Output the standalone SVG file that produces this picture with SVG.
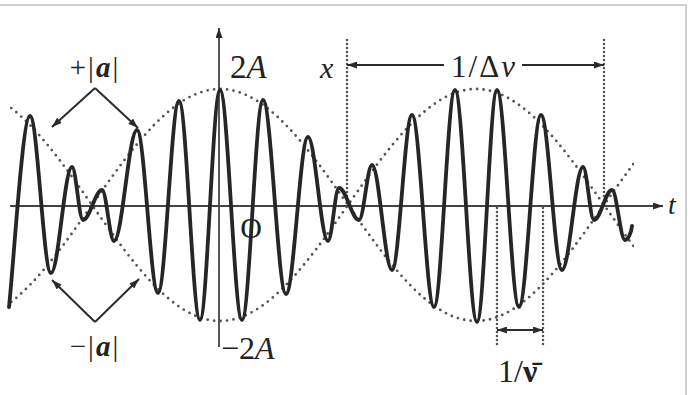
<svg xmlns="http://www.w3.org/2000/svg" width="688" height="395" viewBox="0 0 688 395">
<style>
.wave{fill:none;stroke:#262626;stroke-width:3.8;stroke-linejoin:round;stroke-linecap:round}
.env{fill:none;stroke:#555;stroke-width:2.8;stroke-linecap:round;stroke-dasharray:0 6.5}
.vdot{fill:none;stroke:#555;stroke-width:2.6;stroke-linecap:round;stroke-dasharray:0 4}
.ax{fill:none;stroke:#444;stroke-width:1.8}
.ln{fill:none;stroke:#2b2b2b;stroke-width:2}
.lbl{font-family:"Liberation Serif","Times New Roman",serif;fill:#222}
.it{font-style:italic}
.border{stroke:#d0d0d0;stroke-width:2;fill:none}
</style>
<defs>
<marker id="ah" viewBox="0 0 10 7" refX="10" refY="3.5" markerWidth="10" markerHeight="7" markerUnits="userSpaceOnUse" orient="auto">
<path d="M0,0 L10,3.5 L0,7 z" fill="#2b2b2b"/>
</marker>
<clipPath id="clipEnv"><rect x="9" y="0" width="625" height="395"/></clipPath>
</defs>
<rect width="688" height="395" fill="#fff"/>
<path class="border" d="M0,5 H686 V395"/>

<g id="envelope" clip-path="url(#clipEnv)">
<path class="env" d="M-36,321 C57,321 127,89 220,89 C313,89 383,321 476,321 C569,321 639,89 732,89"/>
<path class="env" d="M-36,89 C57,89 127,321 220,321 C313,321 383,89 476,89 C569,89 639,321 732,321"/>
</g>

<g id="guides">
<path class="vdot" d="M347,40 V198"/>
<path class="vdot" d="M604,40 V200"/>
<path class="vdot" d="M497,208 V346"/>
<path class="vdot" d="M543,208 V346"/>
</g>

<g id="axes">
<line class="ax" x1="10" y1="206" x2="663" y2="206" marker-end="url(#ah)"/>
<line class="ax" x1="219" y1="347" x2="219" y2="28" marker-end="url(#ah)"/>
</g>

<g id="wave">
<path class="wave" d="M9,307 C14,260 22.5,116 30,116
C37.6,116 43.4,273 51,273
C58.6,273 64.4,167 72,167
C76,167 79,220 83,220
C89.8,220 95.2,190 102,190
C106.3,190 109.7,241 114,241
C122.3,241 128.7,130 137,130
C144.6,130 150.4,293 158,293
C165.6,293 171.4,101 179,101
C186.6,101 192.4,320 200,320
C207.2,320 212.8,90 220,90
C227.9,90 234.1,320 242,320
C249.6,320 255.4,100 263,100
C271.3,100 277.7,294 286,294
C293.9,294 300.1,137 308,137
C315.2,137 320.8,241 328,241
C332,241 335,188 339,188
C346.2,188 351.8,220 359,220
C363.7,220 367.3,165 372,165
C379.2,165 384.8,270 392,270
C399.2,270 404.8,115 412,115
C419.9,115 426.1,307 434,307
C441.6,307 447.4,90 455,90
C462.9,90 469.1,322 477,322
C484.2,322 489.8,90 497,90
C504.9,90 511.1,307 519,307
C526.9,307 533.1,115 541,115
C548.6,115 554.4,270 562,270
C569.6,270 575.4,167 583,167
C587,167 590,220 594,220
C600.5,220 605.5,190 612,190
C616.7,190 620.3,240 625,240
C628,240 631,234 632,226"/>
</g>

<g id="connectors">
<line class="ln" x1="444" y1="65" x2="347" y2="65" marker-end="url(#ah)"/>
<line class="ln" x1="522" y1="65" x2="604" y2="65" marker-end="url(#ah)"/>
<line class="ln" x1="520" y1="330" x2="497" y2="330" marker-end="url(#ah)"/>
<line class="ln" x1="520" y1="330" x2="543" y2="330" marker-end="url(#ah)"/>
<line class="ln" x1="95" y1="88" x2="52" y2="127" marker-end="url(#ah)"/>
<line class="ln" x1="95" y1="88" x2="138" y2="128" marker-end="url(#ah)"/>
<line class="ln" x1="95" y1="322" x2="52" y2="280" marker-end="url(#ah)"/>
<line class="ln" x1="95" y1="322" x2="139" y2="279" marker-end="url(#ah)"/>
</g>

<g id="labels">
<text class="lbl" x="95" y="77" font-size="29" text-anchor="middle" letter-spacing="2">+|<tspan class="it" font-weight="bold">a</tspan>|</text>
<text class="lbl" x="95" y="356" font-size="29" text-anchor="middle" letter-spacing="2">−|<tspan class="it" font-weight="bold">a</tspan>|</text>
<text class="lbl" x="230" y="78" font-size="33">2<tspan class="it">A</tspan></text>
<text class="lbl it" x="320" y="78" font-size="30">x</text>
<text class="lbl" x="484" y="77" font-size="31" text-anchor="middle" letter-spacing="2">1/Δ<tspan class="it">ν</tspan></text>
<text class="lbl" x="251" y="238" font-size="30" text-anchor="middle">O</text>
<text class="lbl" x="221" y="359" font-size="32">−2<tspan class="it">A</tspan></text>
<text class="lbl it" x="668" y="214" font-size="28">t</text>
<text class="lbl" x="498" y="382" font-size="32">1/<tspan font-weight="bold">ν̄</tspan></text>
</g>
</svg>
